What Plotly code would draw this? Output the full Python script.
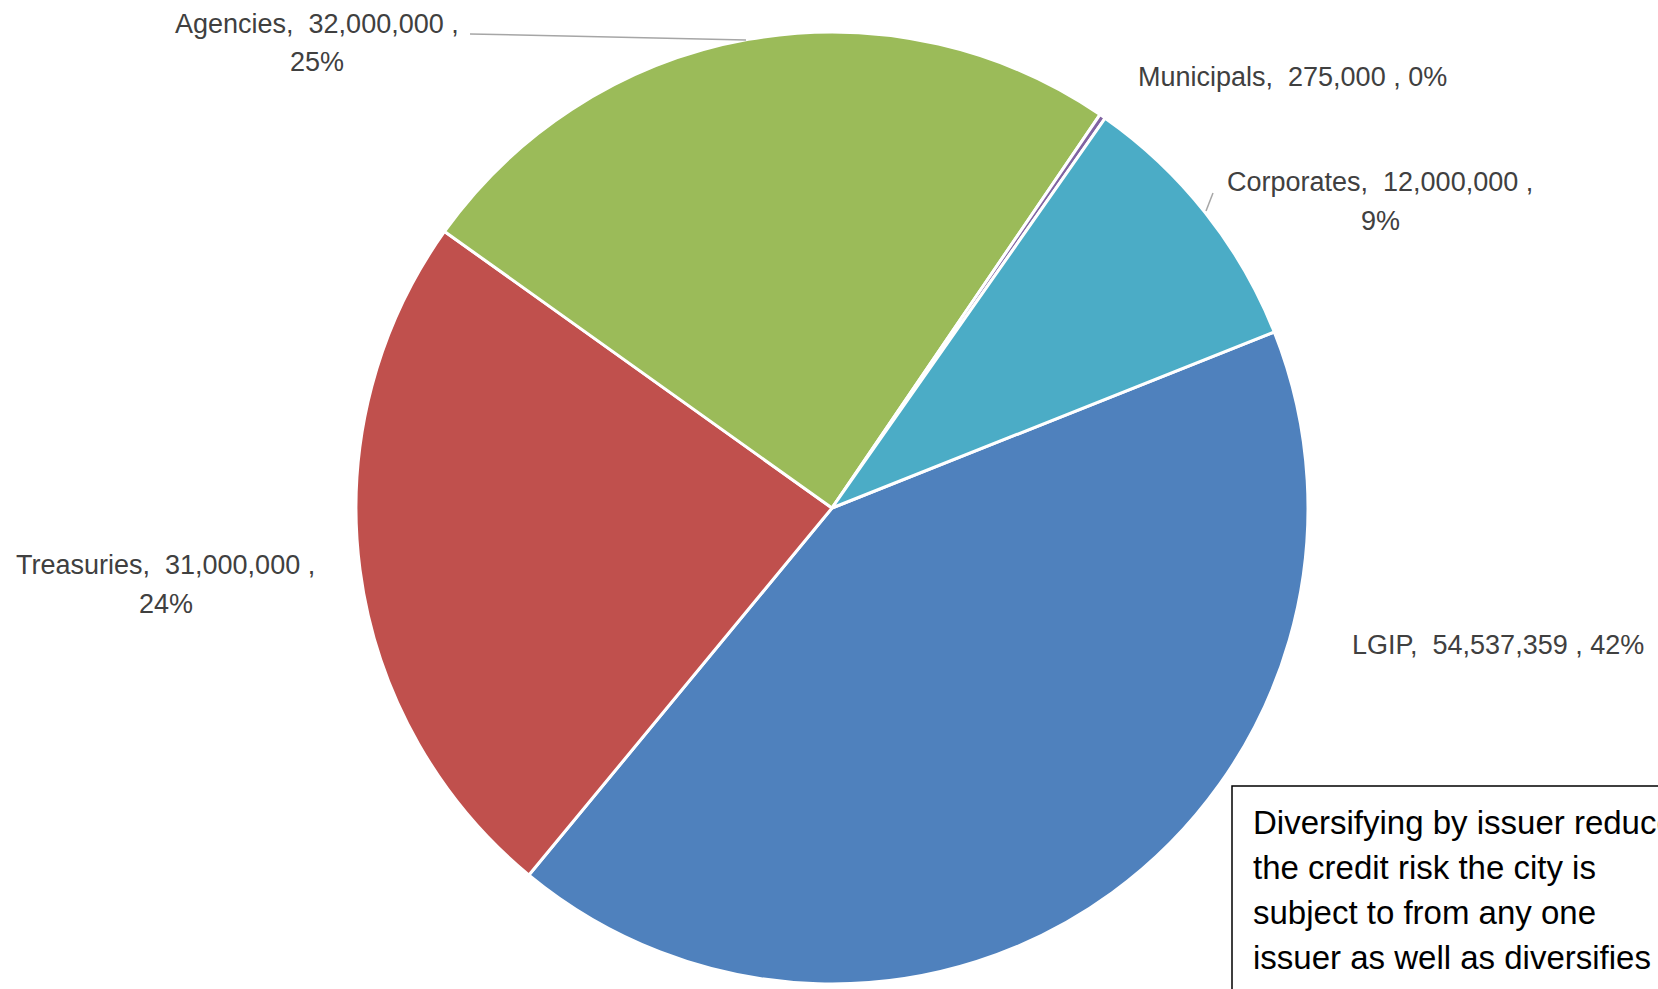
import plotly.graph_objects as go

W, H = 1658, 989

labels = ["LGIP", "Treasuries", "Agencies", "Municipals", "Corporates"]
values = [54537359, 31000000, 32000000, 275000, 12000000]
colors = ["#4F81BD", "#C0504D", "#9BBB59", "#8064A2", "#4BACC6"]

total = sum(values)
pcts = [f"{round(v / total * 100):d}%" for v in values]
vals_txt = [f"{v:,}" for v in values]

def px(x):
    return x / W

def py(y):
    return 1 - y / H

cx, cy, r = 832, 508, 476

fig = go.Figure(go.Pie(
    labels=labels, values=values, sort=False, direction="clockwise",
    rotation=68.3, textinfo="none", hoverinfo="label+value+percent",
    marker=dict(colors=colors, line=dict(color="white", width=3)),
    domain=dict(x=[px(cx - r), px(cx + r)], y=[py(cy + r), py(cy - r)]),
    showlegend=False,
))

lab_font = dict(family="Liberation Sans, Arial", size=27, color="#404040")
NB = "\u00a0"

# label layout (line text, x center px, y center px)
label_lines = {
    "Agencies": [(f"Agencies,{NB}{NB}{vals_txt[2]}{NB},", 317, 24), (pcts[2], 317, 62)],
    "Municipals": [(f"Municipals,{NB}{NB}{vals_txt[3]}{NB},{NB}{pcts[3]}", 1292, 77)],
    "Corporates": [(f"Corporates,{NB}{NB}{vals_txt[4]}{NB},", 1380, 182), (pcts[4], 1380, 221)],
    "Treasuries": [(f"Treasuries,{NB}{NB}{vals_txt[1]}{NB},", 165, 565), (pcts[1], 166, 604)],
    "LGIP": [(f"LGIP,{NB}{NB}{vals_txt[0]}{NB},{NB}{pcts[0]}", 1498, 645)],
}

annotations = []
for name, lines in label_lines.items():
    for t, x, y in lines:
        annotations.append(dict(
            text=t, x=px(x), y=py(y), xref="paper", yref="paper",
            xanchor="center", yanchor="middle", showarrow=False, font=lab_font,
        ))

box_lines = [
    "Diversifying by issuer reduces",
    "the credit risk the city is",
    "subject to from any one",
    "issuer as well as diversifies",
    "the investment portfolio.",
]
box_font = dict(family="Liberation Sans, Arial", size=33, color="black")
for i, t in enumerate(box_lines):
    annotations.append(dict(
        text=t, x=px(1251), y=py(822 + 45 * i), xref="paper", yref="paper",
        xanchor="left", yanchor="middle", showarrow=False, font=box_font,
    ))

shapes = [
    dict(type="line", xref="paper", yref="paper", x0=px(470), y0=py(34), x1=px(746), y1=py(40),
         line=dict(color="#A6A6A6", width=1.5)),
    dict(type="line", xref="paper", yref="paper", x0=px(1206), y0=py(211), x1=px(1213), y1=py(193),
         line=dict(color="#A6A6A6", width=1.5)),
    dict(type="rect", xref="paper", yref="paper", x0=px(1232), y0=py(786), x1=px(1720), y1=py(1040),
         line=dict(color="black", width=1.5), fillcolor="rgba(0,0,0,0)"),
]

fig.update_layout(
    width=W, height=H, margin=dict(l=0, r=0, t=0, b=0),
    paper_bgcolor="white", plot_bgcolor="white",
    annotations=annotations, shapes=shapes,
)

fig.write_html("out.html")
